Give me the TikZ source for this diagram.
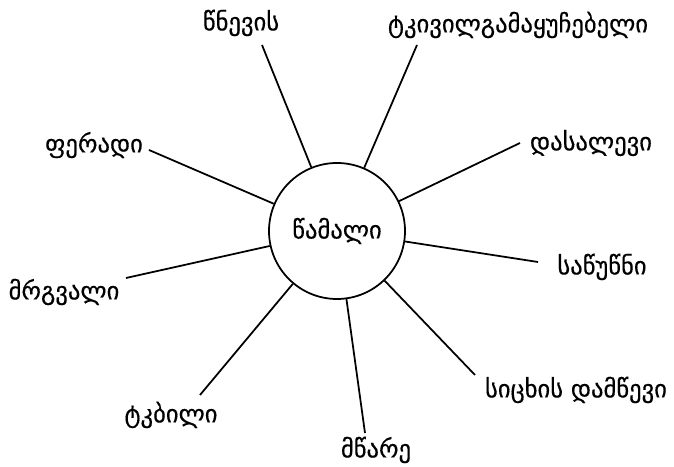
\documentclass[tikz,border=0pt]{standalone}
\usepackage{fontspec}
\setmainfont{DejaVu Sans}
\newcommand\geofont{\fontsize{21}{24}\selectfont\addfontfeature{FakeBold=0.4}}
\usepackage{tikz}

\begin{document}
\begin{tikzpicture}[
  hub/.style={draw=black, line width=1.5pt, circle, minimum size=4.08cm, inner sep=0pt, font=\geofont},
  leaf/.style={inner sep=1pt, font=\geofont},
  spoke/.style={black, line width=1.5pt}]
\useasboundingbox (0,0) rectangle (20.22,14.01);
\node[hub] (drug) at (10.11,7.08) {წამალი};
% labels round the hub
\node[leaf] (pres) at (7.23,13.32) {წნევის};
\node[leaf] (pain) at (15.54,13.26) {ტკივილგამაყუჩებელი};
\node[leaf] (colr) at (2.82,9.66) {ფერადი};
\node[leaf] (drnk) at (17.73,9.72) {დასალევი};
\node[leaf] (suck) at (18.06,6.00) {საწუწნი};
\node[leaf] (rnd) at (1.92,5.25) {მრგვალი};
\node[leaf] (fevr) at (17.28,2.31) {სიცხის დამწევი};
\node[leaf] (swt) at (5.13,1.56) {ტკბილი};
\node[leaf] (bitr) at (11.28,0.51) {მწარე};
% free ends of the spokes
\coordinate (e-pres) at (7.86,12.66);
\coordinate (e-pain) at (12.51,12.66);
\coordinate (e-colr) at (4.47,9.51);
\coordinate (e-drnk) at (15.60,9.72);
\coordinate (e-suck) at (16.14,6.15);
\coordinate (e-rnd) at (3.78,5.67);
\coordinate (e-fevr) at (14.25,2.76);
\coordinate (e-swt) at (6.00,2.16);
\coordinate (e-bitr) at (10.95,1.02);
\foreach \n in {pres,pain,colr,drnk,suck,rnd,fevr,swt,bitr}
  \draw[spoke] (drug) -- (e-\n);
\end{tikzpicture}
\end{document}
